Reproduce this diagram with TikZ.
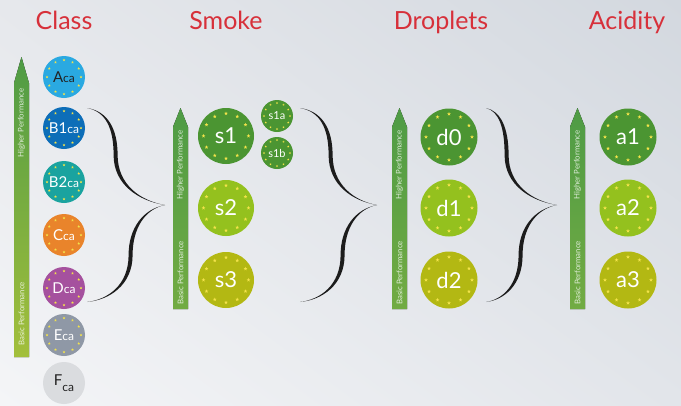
\documentclass[tikz,border=0pt]{standalone}
\usepackage{fontspec}
\setmainfont{Lato}
\usetikzlibrary{shapes.geometric,shadings}
\definecolor{titlered}{HTML}{D7303A}
\definecolor{bgA}{HTML}{E6E8EC}
\definecolor{bgB}{HTML}{D3D8DF}
\definecolor{bgC}{HTML}{F4F5F7}
\definecolor{bgD}{HTML}{E2E5EA}
\definecolor{starY}{HTML}{F3E34A}
\definecolor{cA}{HTML}{2AA9E1}
\definecolor{cBone}{HTML}{0D6EB8}
\definecolor{cBtwo}{HTML}{1AA39F}
\definecolor{cC}{HTML}{E9842B}
\definecolor{cD}{HTML}{A5519E}
\definecolor{cE}{HTML}{8F98A6}
\definecolor{cF}{HTML}{DADCDF}
\definecolor{gDark}{HTML}{4B9532}
\definecolor{gMid}{HTML}{94C11E}
\definecolor{gOlive}{HTML}{B3B813}
\definecolor{arTop}{HTML}{4E9B45}
\definecolor{arBotA}{HTML}{A3BF3B}
\definecolor{arBotB}{HTML}{72AB43}
\definecolor{darktext}{HTML}{222222}
\definecolor{braceK}{HTML}{1C1C1C}
\tikzset{
  disc/.style={circle, minimum size=#1, inner sep=0pt, text=white},
  ptitle/.style={text=titlered, font=\fontsize{25}{25}\selectfont, anchor=base},
  perf/.style={rotate=90, text=white, text opacity=0.8, font=\fontsize{7.8}{8}\selectfont, inner sep=0pt},
  estar/.style={star, star points=5, star point ratio=2.3, fill=starY, draw=none, inner sep=0pt, minimum size=#1},
  bigtxt/.style={font=\fontsize{22}{22}\selectfont},
}
\newcommand\ringstars[3]{% node, distance, size
  \foreach \ang in {0,30,...,330} \path (#1) ++(\ang:#2) node[estar=#3] {};}
\newcommand\curlybrace[4]{%
  \pgfmathsetmacro\ca{#1+0.67*(#2-#1)}%
  \pgfmathsetmacro\cb{#2+0.5*(#4-#2)}%
  \pgfmathsetmacro\cc{#4-0.6*(#4-#3)}%
  \pgfmathsetmacro\cd{#1+0.5*(#3-#1)}%
  \fill[braceK] (#1,108) .. controls (\ca,111) and (#2+0.6,128) .. (#2+0.6,155)
    .. controls (#2+0.6,185) and (\cb,201) .. (#4,205)
    .. controls (\cc,209) and (#3+0.6,228) .. (#3+0.6,255)
    .. controls (#3+0.6,285) and (\cd,300) .. (#1,302)
    .. controls (\cd-1.5,299.5) and (#3-3.4,285) .. (#3-3.4,255)
    .. controls (#3-3.4,228) and (\cc-2,209) .. (#4,205)
    .. controls (\cb-2,201) and (#2-3.4,185) .. (#2-3.4,155)
    .. controls (#2-3.4,128) and (\ca-1.5,111.5) .. (#1,108) -- cycle;}
\begin{document}
\begin{tikzpicture}[x=1pt,y=-1pt]
\useasboundingbox (0,0) rectangle (681,405);
\shade[upper left=bgA, upper right=bgB, lower left=bgC, lower right=bgD] (0,0) rectangle (681,405);

% titles
\node[ptitle] (tclass) at (64,29) {Class};
\node[ptitle] (tsmoke) at (226,29) {Smoke};
\node[ptitle] (tdrop) at (441,29) {Droplets};
\node[ptitle] (tacid) at (627,29) {Acidity};

% performance arrows
\fill[top color=arTop, bottom color=arBotA] (14,357) -- (14,83) -- (21.5,57) -- (29,83) -- (29,357) -- cycle;
\node[perf] (hp1) at (21.5,123) {Higher Performance};
\node[perf] (bp1) at (21.5,314) {Basic Performance};

\fill[top color=arTop, bottom color=arBotB] (173,309) -- (173,127) -- (180.5,108) -- (188,127) -- (188,309) -- cycle;
\node[perf] (hp2) at (180.5,165) {Higher Performance};
\node[perf] (bp2) at (180.5,273) {Basic Performance};

\fill[top color=arTop, bottom color=arBotB] (392,309) -- (392,127) -- (399.5,108) -- (407,127) -- (407,309) -- cycle;
\node[perf] (hp3) at (399.5,165) {Higher Performance};
\node[perf] (bp3) at (399.5,273) {Basic Performance};

\fill[top color=arTop, bottom color=arBotB] (570,309) -- (570,127) -- (577.5,108) -- (585,127) -- (585,309) -- cycle;
\node[perf] (hp4) at (577.5,165) {Higher Performance};
\node[perf] (bp4) at (577.5,273) {Basic Performance};

% class circles
\newcommand\cl[2]{{\fontsize{15}{15}\selectfont #1}{\fontsize{12}{12}\selectfont #2}}
\node[disc=42, fill=cA, text=darktext] (A) at (64,77) {\cl{A}{ca}};
\node[disc=42, fill=cBone] (B1) at (64,128) {\cl{B1}{ca}};
\node[disc=42, fill=cBtwo] (B2) at (64,182) {\cl{B2}{ca}};
\node[disc=42, fill=cC] (C) at (64,235) {\cl{C}{ca}};
\node[disc=42, fill=cD] (D) at (64,288) {\cl{D}{ca}};
\node[disc=42, fill=cE] (E) at (64,335) {\cl{E}{ca}};
\node[disc=42, fill=cF, text=darktext] (F) at (64,383) {{\fontsize{15}{15}\selectfont F}\raisebox{-6pt}{\fontsize{12}{12}\selectfont ca}};
\foreach \n in {A,B1,B2,C,D,E} {\ringstars{\n}{17}{2.8}}

% smoke
\node[disc=56, fill=gDark, bigtxt] (s1) at (226,136) {s1};
\node[disc=56, fill=gMid, bigtxt] (s2) at (226,208) {s2};
\node[disc=56, fill=gOlive, bigtxt] (s3) at (226,280) {s3};
\node[disc=32, fill=gDark, font=\fontsize{11}{11}\selectfont] (s1a) at (277,116) {s1a};
\node[disc=32, fill=gDark, font=\fontsize{11}{11}\selectfont] (s1b) at (277,153) {s1b};
\foreach \n in {s1,s2,s3} {\ringstars{\n}{22.5}{3.8}}
\foreach \n in {s1a,s1b} {\ringstars{\n}{13}{2.2}}

% droplets
\node[disc=57, fill=gDark, bigtxt] (d0) at (449,137) {d0};
\node[disc=57, fill=gMid, bigtxt] (d1) at (449,208) {d1};
\node[disc=57, fill=gOlive, bigtxt] (d2) at (449,280) {d2};
\foreach \n in {d0,d1,d2} {\ringstars{\n}{23}{3.8}}

% acidity
\node[disc=57, fill=gDark, bigtxt] (a1) at (628,137) {a1};
\node[disc=57, fill=gMid, bigtxt] (a2) at (628,208) {a2};
\node[disc=57, fill=gOlive, bigtxt] (a3) at (628,280) {a3};
\foreach \n in {a1,a2,a3} {\ringstars{\n}{23}{3.8}}

% braces
\curlybrace{87}{117}{132}{165}
\curlybrace{300}{332}{344}{377}
\curlybrace{486}{508}{522}{557}
\end{tikzpicture}
\end{document}
